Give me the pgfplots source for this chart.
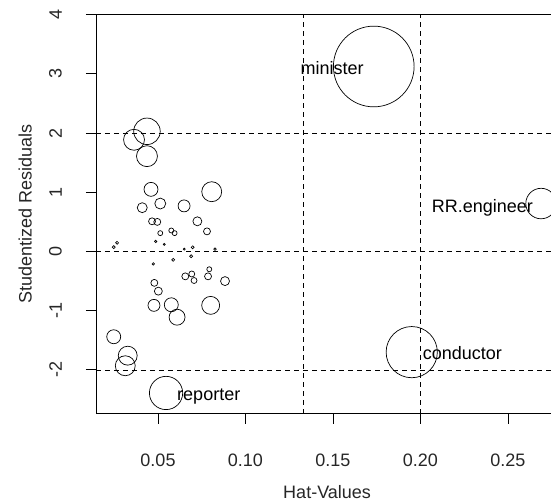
\documentclass[border=0pt]{standalone}
\usepackage{pgfplots}
\usepackage{pgfplotstable}
\pgfplotsset{compat=1.18}
\usepackage{fontspec}
\setmainfont{Liberation Sans}
\newcommand\f{\fontsize{18bp}{21bp}\selectfont}
\pgfplotstableread{
x y r
0.0363 1.887 10.5
0.0437 2.03 13.3
0.0437 1.61 10.5
0.0460 1.05 7
0.0410 0.74 5
0.0513 0.81 5.5
0.0649 0.77 6
0.0807 1.01 10
0.0466 0.51 3.5
0.0496 0.50 3.5
0.0725 0.51 4.5
0.0780 0.34 3.5
0.0513 0.31 2.5
0.0576 0.355 2.5
0.0595 0.31 2.5
0.0266 0.147 1.5
0.0247 0.073 1.5
0.0487 0.17 1.2
0.0536 0.12 1
0.0650 0.04 1
0.0698 0.07 1.5
0.0826 0.04 1.3
0.0473 -0.21 1.2
0.0587 -0.14 1.5
0.0689 -0.08 1.5
0.0793 -0.30 2.5
0.0786 -0.42 3.5
0.0656 -0.42 3.5
0.0693 -0.38 3
0.0706 -0.49 3
0.0883 -0.50 4.5
0.0479 -0.53 3.5
0.0502 -0.67 4
0.0477 -0.91 6
0.0576 -0.90 7
0.0609 -1.11 8
0.0801 -0.91 9
0.0247 -1.44 7
0.0327 -1.76 9.5
0.0313 -1.93 10
0.0546 -2.39 16.7
0.1733 3.125 40.5
0.2689 0.81 15.3
0.1950 -1.70 25.7
}\pts
\begin{document}
\begin{tikzpicture}
\begin{axis}[
  at={(0,0)}, anchor=south west,
  scale only axis, width=462.2bp, height=399bp,
  xmin=0.01457, xmax=0.2787, ymin=-2.74, ymax=4,
  xtick={0.05,0.10,0.15,0.20,0.25},
  xticklabels={0.05,0.10,0.15,0.20,0.25},
  ytick={-2,-1,0,1,2,3,4},
  yticklabels={-2,-1,0,1,2,3,4},
  xtick pos=lower, ytick pos=left,
  tick align=outside, major tick length=10bp,
  tick style={black, line width=0.8pt},
  axis line style={black, line width=0.8pt},
  every tick label/.append style={font=\f, text=black!85},
  xticklabel style={anchor=north, inner sep=0pt, yshift=-29.6bp},
  yticklabel style={xshift=-24bp, rotate=90, anchor=south, inner sep=0pt},
  xlabel={Hat-Values}, ylabel={Studentized Residuals},
  label style={font=\f, text=black!85},
  xlabel style={at={(axis description cs:0.5,-0.2113)}, anchor=base, inner sep=0pt},
  ylabel style={at={(axis description cs:-0.1391,0.5)}, anchor=base, inner sep=0pt},
]
\addplot[black, line width=0.7pt, dash pattern=on 5bp off 4bp] coordinates {(0.01457,2) (0.2787,2)};
\addplot[black, line width=0.7pt, dash pattern=on 5bp off 4bp] coordinates {(0.01457,0) (0.2787,0)};
\addplot[black, line width=0.7pt, dash pattern=on 5bp off 4bp] coordinates {(0.01457,-2) (0.2787,-2)};
\addplot[black, line width=0.7pt, dash pattern=on 5bp off 4bp] coordinates {(0.13333,-2.74) (0.13333,4)};
\addplot[black, line width=0.7pt, dash pattern=on 5bp off 4bp] coordinates {(0.2,-2.74) (0.2,4)};
\addplot[scatter, only marks, mark=o,
  scatter/use mapped color={draw=black},
  visualization depends on={\thisrow{r} \as \markrad},
  scatter/@pre marker code/.append style={/tikz/mark size=\markrad},
  mark options={line width=0.7pt}]
  table[x=x, y=y, meta=r] {\pts};
\node[anchor=base east, inner sep=0pt, font=\f, xshift=-10bp, yshift=-8bp] at (axis cs:0.1733,3.125) {minister};
\node[anchor=base east, inner sep=0pt, font=\f, xshift=-8bp, yshift=-9bp] at (axis cs:0.2689,0.81) {RR.engineer};
\node[anchor=base west, inner sep=0pt, font=\f, xshift=11bp, yshift=-7.5bp] at (axis cs:0.1950,-1.70) {conductor};
\node[anchor=base west, inner sep=0pt, font=\f, xshift=11bp, yshift=-8bp] at (axis cs:0.0546,-2.39) {reporter};
\end{axis}
\pgfresetboundingbox
\path[use as bounding box] (-96bp,-88.3bp) rectangle (455bp,413.7bp);
\end{tikzpicture}
\end{document}
